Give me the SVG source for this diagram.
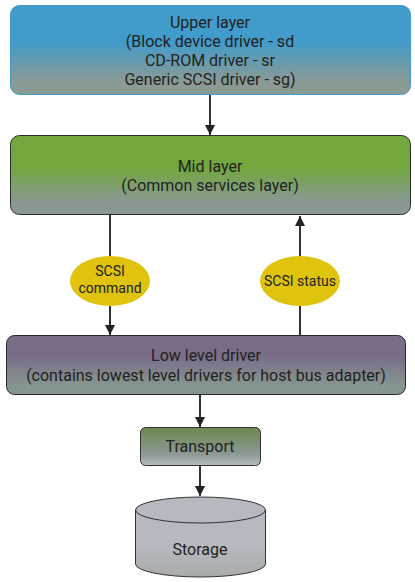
<svg xmlns="http://www.w3.org/2000/svg" width="415" height="582" viewBox="0 0 415 582">
<defs>
<linearGradient id="gBlue" x1="0" y1="0" x2="0" y2="1">
<stop offset="0.4" stop-color="#419bcb"/><stop offset="0.85" stop-color="#8a9a95"/></linearGradient>
<linearGradient id="gGreen" x1="0" y1="0" x2="0" y2="1">
<stop offset="0.4" stop-color="#72a73d"/><stop offset="0.85" stop-color="#899894"/></linearGradient>
<linearGradient id="gPurple" x1="0" y1="0" x2="0" y2="1">
<stop offset="0.35" stop-color="#7a6d88"/><stop offset="0.85" stop-color="#859690"/></linearGradient>
<linearGradient id="gTrans" x1="0" y1="0" x2="0" y2="1">
<stop offset="0.1" stop-color="#6f8a55"/><stop offset="0.7" stop-color="#8c9995"/><stop offset="1" stop-color="#b9bcc2"/></linearGradient>
<linearGradient id="gCyl" x1="0" y1="0" x2="0" y2="1">
<stop offset="0.6" stop-color="#b6b9c0"/><stop offset="1" stop-color="#a9aca9"/></linearGradient>
<marker id="arr" viewBox="0 0 10 10" refX="10" refY="5" markerWidth="10" markerHeight="10" markerUnits="userSpaceOnUse" orient="auto">
<path d="M0,0 L10,5 L0,10 z" fill="#222"/></marker>
<style>
text{font-family:Roboto,"Liberation Sans",sans-serif;font-size:16px;fill:#222;text-anchor:middle}
text.s{font-size:14px}
.c{stroke:#333;stroke-width:2;fill:none;marker-end:url(#arr)}
</style>
</defs>
<g id="connectors">
<line class="c" x1="210" y1="95" x2="210" y2="135"/>
<line class="c" x1="110" y1="215" x2="110" y2="335"/>
<line class="c" x1="300" y1="335" x2="300" y2="216"/>
<line class="c" x1="200" y1="395" x2="200" y2="427"/>
<line class="c" x1="200" y1="466" x2="200" y2="496"/>
</g>
<g id="upper">
<rect x="10.5" y="5.5" width="400" height="89" rx="9" fill="url(#gBlue)" stroke="#419bcb"/>
<text x="210" y="28">Upper layer</text>
<text x="210" y="47">(Block device driver - sd</text>
<text x="210" y="66">CD-ROM driver - sr</text>
<text x="210" y="85">Generic SCSI driver - sg)</text>
</g>
<g id="mid">
<rect x="10.5" y="135.5" width="400" height="79" rx="9" fill="url(#gGreen)" stroke="#2a2f2a"/>
<text x="210" y="172">Mid layer</text>
<text x="210" y="191">(Common services layer)</text>
</g>
<g id="cmd">
<ellipse cx="110" cy="281" rx="40" ry="25" fill="#dfc30c"/>
<text class="s" x="110" y="276">SCSI</text>
<text class="s" x="110" y="293">command</text>
</g>
<g id="status">
<ellipse cx="300" cy="281" rx="40" ry="25" fill="#dfc30c"/>
<text class="s" x="300" y="286">SCSI status</text>
</g>
<g id="low">
<rect x="6.5" y="335.5" width="399" height="59" rx="8" fill="url(#gPurple)" stroke="#2a2a2a"/>
<text x="206" y="361">Low level driver</text>
<text x="206" y="381">(contains lowest level drivers for host bus adapter)</text>
</g>
<g id="transport">
<rect x="140.5" y="427.5" width="120" height="38" rx="5" fill="url(#gTrans)" stroke="#333"/>
<text x="200" y="452">Transport</text>
</g>
<g id="storage">
<path d="M135.5,510 A65,13 0 0 1 265.5,510 L265.5,564 A65,13 0 0 1 135.5,564 Z" fill="url(#gCyl)" stroke="#333"/>
<path d="M135.5,510 A65,13 0 0 0 265.5,510" fill="none" stroke="#333"/>
<text x="200" y="555">Storage</text>
</g>
</svg>
